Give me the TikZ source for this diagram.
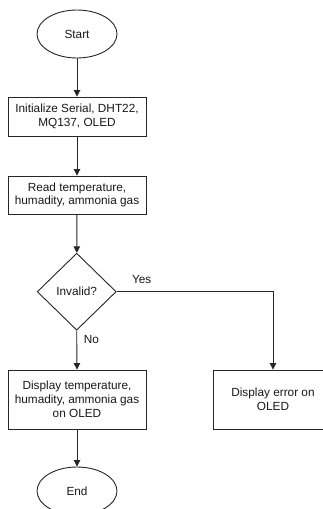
\documentclass[tikz,border=0pt]{standalone}
\usepackage{fontspec}
\setmainfont{Liberation Sans}
\usetikzlibrary{shapes.geometric,arrows.meta}
\begin{document}
\begin{tikzpicture}[x=1pt,y=-1pt,
  base/.style={draw=black!85, line width=0.9pt, font=\fontsize{11.8}{13.8}\selectfont, align=center, inner sep=0pt, text=black!90},
  term/.style={base, ellipse, minimum width=80pt, minimum height=48pt},
  procbox/.style={base, rectangle, minimum width=138pt},
  decis/.style={base, diamond, minimum width=79pt, minimum height=77pt},
  conn/.style={draw=black!85, line width=0.9pt, -{Triangle[length=6.5pt,width=6.5pt]}},
  lbl/.style={font=\fontsize{11.8}{13.8}\selectfont, inner sep=0pt, text=black!90}
]
\useasboundingbox (0,0) rectangle (323,509);
\clip (0,0) rectangle (323,509);
\fill[white] (0,0) rectangle (323,509);

\node[term] (start) at (77,34) {Start};
\node[procbox, minimum height=39pt] (init) at (77,116.5) {Initialize Serial, DHT22,\\MQ137, OLED};
\node[procbox, minimum height=38pt] (read) at (77,195) {Read temperature,\\humadity, ammonia gas};
\node[decis] (dec) at (76.7,291.7) {Invalid?};
\node[procbox, minimum height=59pt] (disp) at (77,399.5) {Display temperature,\\humadity, ammonia gas\\on OLED};
\node[base, rectangle, minimum width=120pt, minimum height=59pt] (err) at (273,399.5) {Display error on\\OLED};
\node[term] (end) at (77,491) {End};

\node[lbl] (yes) at (141.7,279) {Yes};
\node[lbl] (no) at (91.5,339.5) {No};

\draw[conn] (start) -- (init);
\draw[conn] (init) -- (read);
\draw[conn] (read) -- (dec);
\draw[conn] (dec.east) -| (err.north);
\draw[conn] (dec.south) -- (disp.north);
\draw[conn] (disp) -- (end);
\end{tikzpicture}
\end{document}
